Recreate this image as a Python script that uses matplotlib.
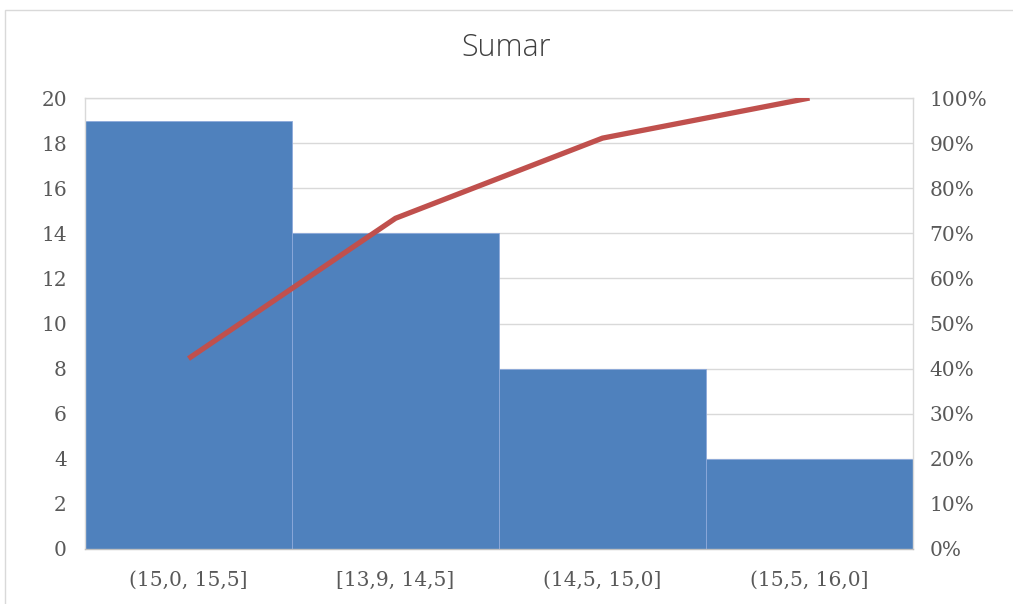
import numpy as np
import matplotlib
matplotlib.use('Agg')
import matplotlib.pyplot as plt
from matplotlib.ticker import PercentFormatter

# data
categories = ['(15,0, 15,5]', '[13,9, 14,5]', '(14,5, 15,0]', '(15,5, 16,0]']
counts = [19, 14, 8, 4]
cum_pct = list(np.cumsum(counts) / np.sum(counts) * 100)

bar_color = '#4F81BD'
line_color = '#C0504D'
grid_color = '#D9D9D9'
text_color = '#595959'

plt.rcParams['font.family'] = ['DejaVu Serif']

fig = plt.figure(figsize=(10.13, 6.04), dpi=100)
ax = fig.add_axes([0.0839, 0.0911, 0.8174, 0.7466])

x = np.arange(len(categories))
ax.bar(x, counts, width=1.0, color=bar_color, edgecolor='#8EAADB', linewidth=0.6, zorder=2)
ax.set_xlim(-0.5, len(categories) - 0.5)
ax.set_ylim(0, 20)
ax.set_yticks(range(0, 21, 2))
ax.grid(axis='y', color=grid_color, linewidth=1.0, zorder=0)
ax.set_xticks(x)
ax.set_xticklabels(categories)
ax.tick_params(axis='both', length=0, labelsize=14.5, colors=text_color)
ax.tick_params(axis='x', pad=16)
ax.tick_params(axis='y', pad=13)
for s in ax.spines.values():
    s.set_color(grid_color)
    s.set_linewidth(1.0)
ax.spines['bottom'].set_color('#BFBFBF')

ax2 = ax.twinx()
ax2.plot(x, cum_pct, color=line_color, linewidth=3.8, solid_capstyle='butt', zorder=3)
ax2.set_ylim(0, 100)
ax2.set_yticks(range(0, 101, 10))
ax2.yaxis.set_major_formatter(PercentFormatter(decimals=0))
ax2.tick_params(axis='y', length=0, labelsize=14.5, colors=text_color, pad=12)
for s in ax2.spines.values():
    s.set_visible(False)

fig.text(0.5, 0.9205, 'Sumar', ha='center', va='center', fontsize=22, fontweight='light',
         color='#404040', family=['Open Sans', 'DejaVu Sans'])

# outer chart border
fig.add_artist(plt.Rectangle((0.005, -0.01), 1.2, 0.994, transform=fig.transFigure,
                             fill=False, edgecolor='#D9D9D9', linewidth=1.0))

fig.savefig('out.png', dpi=100)
